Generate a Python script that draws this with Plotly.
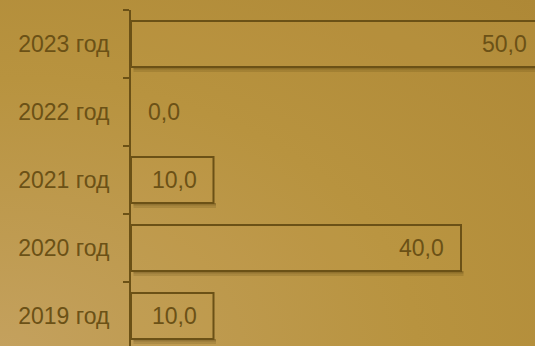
import plotly.graph_objects as go

# data
years = ["2019 год", "2020 год", "2021 год", "2022 год", "2023 год"]
values = [10.0, 40.0, 10.0, 0.0, 50.0]
value_labels = ["10,0", "40,0", "10,0", "0,0", "50,0"]

INK = "#6B5116"
FONT = "Liberation Sans, Arial, sans-serif"
FONT_SIZE = 23
BAR_W = 0.68
W, H = 560, 350
ML, MT = 131, 10
XMAX = 52

fig = go.Figure()

# soft drop shadow along the lower edge of each bar
for step, alpha in [(0, 0.32), (1, 0.14)]:
    fig.add_bar(
        y=years, x=values, orientation="h", base=0.3,
        width=0.035, offset=-BAR_W / 2 - 0.035 * (step + 1),
        marker=dict(color=f"rgba(60,40,0,{alpha})", line_width=0),
        hoverinfo="skip", showlegend=False,
    )

# empty bars get no outline so the axis line stays clean
outline_w = [2 if v > 0 else 0 for v in values]
fig.add_bar(
    y=years, x=values, orientation="h", width=BAR_W,
    marker=dict(color="rgba(205,165,85,0.12)", line=dict(color=INK, width=outline_w)),
    showlegend=False,
)

for yv, v, t in zip(years, values, value_labels):
    fig.add_annotation(
        x=v, y=yv, xref="x", yref="y", text=t, showarrow=False,
        xanchor="right" if v > 0 else "left",
        xshift=-15 if v > 0 else 15,
        font=dict(family=FONT, size=FONT_SIZE, color=INK),
    )

fig.update_layout(
    width=W, height=H,
    margin=dict(l=ML, r=0, t=MT, b=0, pad=0),
    barmode="overlay",
    paper_bgcolor="rgba(0,0,0,0)",
    plot_bgcolor="rgba(0,0,0,0)",
    font=dict(family=FONT, size=FONT_SIZE, color=INK),
    xaxis=dict(visible=False, range=[0, XMAX], fixedrange=True),
    yaxis=dict(
        type="category", categoryorder="array", categoryarray=years,
        range=[-0.5, 4.5],
        showline=True, linecolor=INK, linewidth=2,
        ticks="outside", ticklen=6, tickwidth=2, tickcolor=INK,
        tickson="boundaries", showgrid=False, zeroline=False,
        ticklabelstandoff=15,
        tickfont=dict(family=FONT, size=FONT_SIZE, color=INK),
        fixedrange=True,
    ),
)

page_style = (
    "document.documentElement.style.overflow='hidden';"
    "document.body.style.overflow='hidden';"
    "document.body.style.margin='0';"
    "document.body.style.background="
    "'radial-gradient(ellipse at 0% 100%, #C4A15E 0%, #B8933F 55%, #AE8836 100%)';"
)

fig.write_html("out.html", post_script=page_style, config={"displayModeBar": False})
